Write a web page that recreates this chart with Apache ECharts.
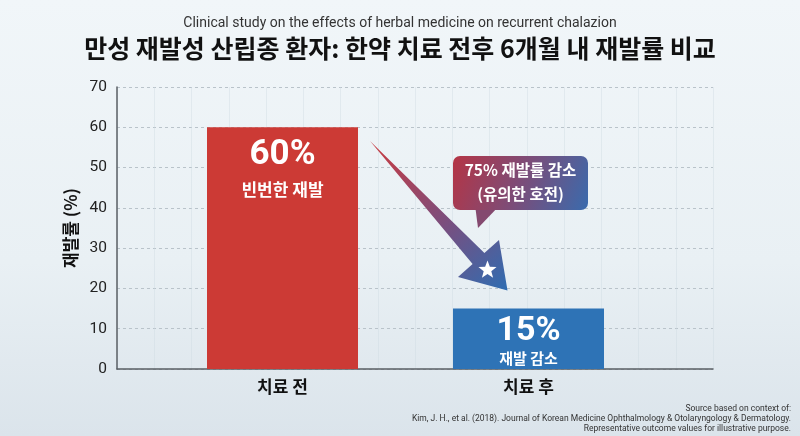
<!DOCTYPE html>
<html>
<head>
<meta charset="utf-8">
<script src="https://cdn.jsdelivr.net/npm/echarts@6/dist/echarts.min.js"></script>
<style>
html,body{margin:0;padding:0;width:800px;height:436px;overflow:hidden;}
#c{width:800px;height:436px;}
</style>
</head>
<body>
<div id="c"></div>
<script>
// ---- data ----
const categories = ['치료 전', '치료 후'];
const recurrenceRates = [60, 15];
const rateLabels = ['60%', '15%'];
const subLabels = ['빈번한 재발', '재발 감소'];
const barColors = ['#cc3a35', '#2e73b6'];
const yMin = 0, yMax = 70, yInterval = 10;
const reductionNote = ['75% 재발률 감소', '(유의한 호전)'];
const titleSub = 'Clinical study on the effects of herbal medicine on recurrent chalazion';
const titleMain = '만성 재발성 산립종 환자: 한약 치료 전후 6개월 내 재발률 비교';
const yAxisName = '재발률 (%)';
const footerLines = [
  'Source based on context of:',
  'Kim, J. H., et al. (2018). Journal of Korean Medicine Ophthalmology & Otolaryngology & Dermatology.',
  'Representative outcome values for illustrative purpose.'
];

const FONT = 'Roboto, "Noto Sans CJK KR", sans-serif';
const KFONT = '"Noto Sans CJK KR", Roboto, sans-serif';

const labelStyles = [
  {distance: 9, big: 35, bigLH: 38, small: 17, smallLH: 30},
  {distance: 4, big: 34, bigLH: 37, small: 15, smallLH: 17}
];

const barData = recurrenceRates.map((v, i) => ({
  value: v,
  itemStyle: {color: barColors[i]},
  label: {
    show: true,
    position: 'insideTop',
    distance: labelStyles[i].distance,
    formatter: '{big|' + rateLabels[i] + '}\n{small|' + subLabels[i] + '}',
    rich: {
      big: {fontSize: labelStyles[i].big, fontWeight: 'bold', color: '#fff', fontFamily: FONT, lineHeight: labelStyles[i].bigLH, align: 'center'},
      small: {fontSize: labelStyles[i].small, fontWeight: 'bold', color: '#fff', fontFamily: KFONT, lineHeight: labelStyles[i].smallLH, align: 'center'}
    }
  }
}));

const chart = echarts.init(document.getElementById('c'), null, {renderer: 'canvas'});

// star polygon
function starPts(cx, cy, R, r) {
  const pts = [];
  for (let k = 0; k < 10; k++) {
    const ang = -Math.PI / 2 + k * Math.PI / 5;
    const rad = k % 2 === 0 ? R : r;
    pts.push([cx + rad * Math.cos(ang), cy + rad * Math.sin(ang)]);
  }
  return pts;
}

const option = {
  backgroundColor: {
    type: 'linear', x: 0, y: 0, x2: 0, y2: 1,
    colorStops: [{offset: 0, color: '#f1f6f9'}, {offset: 0.6, color: '#e9f0f4'}, {offset: 1, color: '#dbe4eb'}]
  },
  title: [
    {text: titleSub, left: 'center', top: 12, textStyle: {fontFamily: FONT, fontSize: 14, fontWeight: 'normal', color: '#333'}},
    {text: titleMain, left: 'center', top: 31, textStyle: {fontFamily: KFONT, fontSize: 25, fontWeight: 'bold', color: '#111'}}
  ],
  grid: [
    {left: 117, right: 87, top: 87, bottom: 67},
    {left: 159.5, right: 148.5, top: 87, bottom: 67}
  ],
  xAxis: [
    {
      type: 'value', gridIndex: 0, min: 0, max: 16, interval: 1,
      axisLine: {show: true, onZero: false, lineStyle: {color: '#5a5f64', width: 1.5}},
      axisTick: {show: false}, axisLabel: {show: false},
      splitLine: {show: true, lineStyle: {color: 'rgba(205,218,226,0.4)', width: 1}}
    },
    {
      type: 'category', gridIndex: 1, data: categories,
      axisLine: {show: false}, axisTick: {show: false},
      axisLabel: {margin: 9, fontFamily: KFONT, fontSize: 17, fontWeight: 'bold', color: '#111'}
    }
  ],
  yAxis: [
    {
      type: 'value', gridIndex: 0, min: yMin, max: yMax, interval: yInterval,
      name: yAxisName, nameLocation: 'middle', nameGap: 36, nameRotate: 90,
      nameTextStyle: {fontFamily: KFONT, fontSize: 17, fontWeight: 'bold', color: '#111'},
      axisLine: {show: true, lineStyle: {color: '#5a5f64', width: 1.5}},
      axisTick: {show: false},
      axisLabel: {fontFamily: FONT, fontSize: 15.5, color: '#222', margin: 10},
      splitLine: {show: true, lineStyle: {color: '#b9c3ca', type: [3, 3], width: 1}}
    },
    {
      type: 'value', gridIndex: 1, min: yMin, max: yMax, interval: yInterval,
      show: false, splitLine: {show: false}
    }
  ],
  series: [{
    type: 'bar', xAxisIndex: 1, yAxisIndex: 1,
    barWidth: 151, data: barData, z: 3
  }],
  graphic: []
};
chart.setOption(option);

// annotation: gradient arrow, star, callout
const arrowPts = [[370, 141], [484.4, 253.1], [499, 240], [507.5, 290.5], [458, 277], [472.6, 263.9]];
const arrowFill = {
  type: 'linear', x: 0, y: 0, x2: 1, y2: 1,
  colorStops: [{offset: 0, color: 'rgba(200,50,55,0.95)'}, {offset: 0.55, color: '#7a4e7e'}, {offset: 1, color: '#2f6db2'}]
};
const bubbleFill = {
  type: 'linear', x: 0, y: 0, x2: 1, y2: 1,
  colorStops: [{offset: 0, color: '#b53545'}, {offset: 0.5, color: '#7c4c78'}, {offset: 1, color: '#3a6bad'}]
};
chart.setOption({
  graphic: [
    {type: 'polygon', shape: {points: arrowPts}, style: {fill: arrowFill}, z: 10},
    {type: 'polygon', shape: {points: starPts(487.5, 270, 9.5, 4)}, style: {fill: '#ffffff'}, z: 11},
    {type: 'polygon', shape: {points: [[475, 205], [500, 205], [478, 228]]}, style: {fill: '#84496f'}, z: 10},
    {type: 'rect', shape: {x: 453, y: 156, width: 135, height: 54, r: 7}, style: {fill: bubbleFill}, z: 10},
    {type: 'text', x: 520.5, y: 170, style: {text: reductionNote[0], fill: '#fff', font: 'bold 15.5px ' + KFONT, align: 'center', verticalAlign: 'middle'}, z: 12},
    {type: 'text', x: 520.5, y: 194, style: {text: reductionNote[1], fill: '#fff', font: 'bold 15.5px ' + KFONT, align: 'center', verticalAlign: 'middle'}, z: 12},
    {type: 'text', x: 791, y: 409, style: {text: footerLines[0], fill: '#333', font: '8.5px ' + FONT, align: 'right', verticalAlign: 'middle'}, z: 12},
    {type: 'text', x: 791, y: 419, style: {text: footerLines[1], fill: '#333', font: '8.5px ' + FONT, align: 'right', verticalAlign: 'middle'}, z: 12},
    {type: 'text', x: 791, y: 429, style: {text: footerLines[2], fill: '#333', font: '8.5px ' + FONT, align: 'right', verticalAlign: 'middle'}, z: 12}
  ]
});
</script>
</body>
</html>
